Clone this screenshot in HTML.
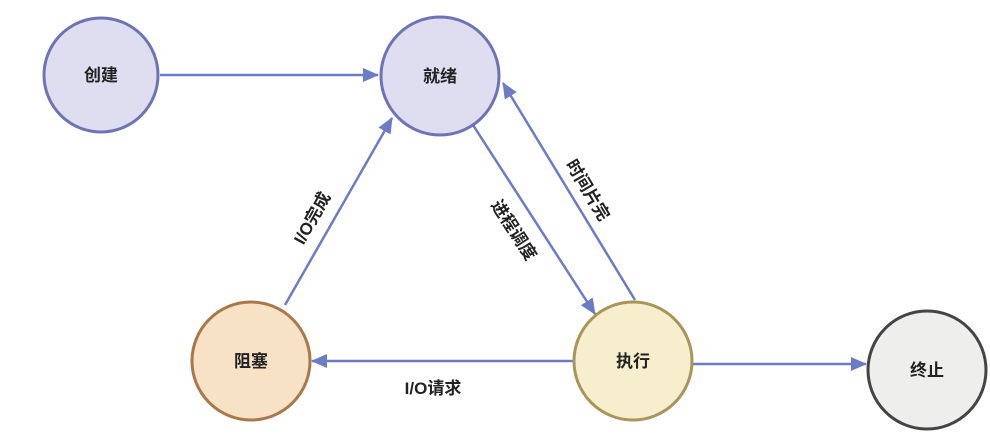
<!DOCTYPE html>
<html><head><meta charset="utf-8"><style>
html,body{margin:0;padding:0;background:#fff;}
svg text{font-family:"Liberation Sans","Noto Sans CJK SC",sans-serif;font-size:17px;fill:#222;font-weight:bold;}
</style></head><body>
<svg width="990" height="443" viewBox="0 0 990 443" xmlns="http://www.w3.org/2000/svg">
<defs>
<marker id="b" markerWidth="16" markerHeight="14" refX="15" refY="7" orient="auto" markerUnits="userSpaceOnUse">
<path d="M0,0 L16,7 L0,14 z" fill="#6b7cc4"/></marker>
</defs>
<g stroke="#6b7cc4" stroke-width="2.5" fill="none">
<line x1="160" y1="75" x2="378" y2="75" marker-end="url(#b)"/>
<line x1="285" y1="305" x2="392" y2="118" marker-end="url(#b)"/>
<line x1="473" y1="125" x2="595" y2="314" marker-end="url(#b)"/>
<line x1="635" y1="300" x2="503" y2="83" marker-end="url(#b)"/>
<line x1="573" y1="361" x2="312" y2="361" marker-end="url(#b)"/>
<line x1="692" y1="364" x2="866" y2="364" marker-end="url(#b)"/>
</g>
<circle cx="101" cy="75" r="57" fill="#dedef0" stroke="#6e73b3" stroke-width="3"/>
<circle cx="440" cy="76" r="59" fill="#dedef0" stroke="#6e73b3" stroke-width="3"/>
<circle cx="251" cy="361" r="59" fill="#f7e2c6" stroke="#a8784a" stroke-width="3"/>
<circle cx="633" cy="361" r="59" fill="#f6eecc" stroke="#a8955a" stroke-width="3"/>
<circle cx="927" cy="370" r="59" fill="#eeeeec" stroke="#444" stroke-width="3"/>
<g text-anchor="middle">
<text x="101" y="81">创建</text>
<text x="440" y="82">就绪</text>
<text x="251" y="367">阻塞</text>
<text x="633" y="367">执行</text>
<text x="927" y="376">终止</text>
<text x="433" y="394">I/O请求</text>
<text transform="translate(312,218) rotate(-61)" y="6">I/O完成</text>
<text transform="translate(514,230) rotate(57)" y="6">进程调度</text>
<text transform="translate(588,190) rotate(59)" y="6">时间片完</text>
</g>
</svg>
</body></html>
